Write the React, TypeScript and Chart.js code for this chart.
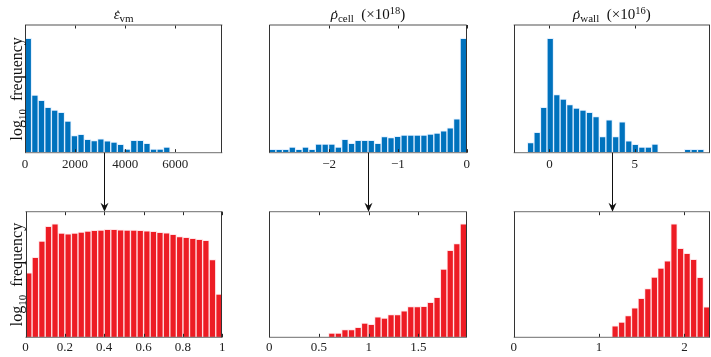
import React, { useEffect, useRef } from 'react';
import { Chart, registerables } from 'chart.js';
Chart.register(...registerables);

// ---------- data (log10 frequency per bin) ----------
// top row: raw rates
const vmBinRange = [0, 7900];
const vmAxisRange = [0, 7880];
const vmLog = [4.48, 2.26, 2.05, 1.78, 1.67, 1.58, 1.24, 0.67, 0.72, 0.52, 0.47, 0.54, 0.46, 0.42, 0.33, 0.14, 0.48, 0.48, 0.37, 0.14, 0.14, 0.22, 0, 0, 0, 0, 0, 0, 0, 0];
const vmTicks = [0, 2000, 4000, 6000];
const vmTickLabels = ['0', '2000', '4000', '6000'];

const cellBinRange = [-2.87, 0];
const cellAxisRange = [-2.87, 0];
const cellLog = [0.13, 0.13, 0.13, 0.22, 0.13, 0.22, 0.13, 0.34, 0.34, 0.34, 0.22, 0.52, 0.37, 0.48, 0.48, 0.48, 0.37, 0.63, 0.59, 0.64, 0.69, 0.69, 0.69, 0.69, 0.73, 0.77, 0.86, 0.97, 1.33, 4.48];
const cellTicks = [-2, -1, 0];
const cellTickLabels = ['\u22122', '\u22121', '0'];

const wallBinRange = [-1.29, 9.06];
const wallAxisRange = [-2.09, 9.41];
const wallLog = [0.40, 0.80, 1.78, 4.48, 2.28, 2.10, 1.88, 1.75, 1.67, 1.58, 1.41, 0.63, 1.29, 0.63, 1.21, 0.46, 0.33, 0.22, 0.22, 0.34, 0, 0, 0, 0, 0.13, 0.13, 0.13];
const wallTicks = [0, 5];
const wallTickLabels = ['0', '5'];

// bottom row: transformed / normalised
const vmNormBinRange = [0, 1];
const vmNormAxisRange = [0, 1];
const vmNormLog = [2.57, 3.18, 3.83, 4.42, 4.52, 4.15, 4.12, 4.15, 4.19, 4.23, 4.26, 4.27, 4.30, 4.30, 4.28, 4.27, 4.27, 4.26, 4.24, 4.22, 4.18, 4.16, 4.10, 4.01, 3.98, 3.94, 3.90, 3.86, 3.09, 1.72];
const vmNormTicks = [0, 0.2, 0.4, 0.6, 0.8, 1];
const vmNormTickLabels = ['0', '0.2', '0.4', '0.6', '0.8', '1'];

const cellNormBinRange = [0, 1.987];
const cellNormAxisRange = [0, 1.987];
const cellNormLog = [0, 0, 0, 0, 0, 0, 0, 0, 0, 0.17, 0.17, 0.31, 0.31, 0.40, 0.57, 0.52, 0.81, 0.77, 0.90, 0.90, 1.05, 1.22, 1.22, 1.23, 1.39, 1.59, 2.72, 3.46, 3.73, 4.52];
const cellNormTicks = [0, 0.5, 1, 1.5];
const cellNormTickLabels = ['0', '0.5', '1', '1.5'];

const wallNormBinRange = [0, 2.30];
const wallNormAxisRange = [0, 2.30];
const wallNormLog = [0, 0, 0, 0, 0, 0, 0, 0, 0, 0, 0, 0, 0, 0, 0, 0.46, 0.61, 0.86, 1.17, 1.55, 1.94, 2.40, 2.76, 3.04, 4.52, 3.54, 3.34, 3.10, 2.39, 1.21];
const wallNormTicks = [0, 1, 2];
const wallNormTickLabels = ['0', '1', '2'];

// arrow positions (data units of each panel)
const arrowTop = [3170, -1.43, 3.69];
const arrowBottom = [0.40, 0.995, 1.156];

const Y_MAX = 5;
const BLUE = '#0072BD';
const RED = '#ED1C24';
const SERIF = '"Liberation Serif", "Times New Roman", serif';

type Seg = { t: string; s: number; it?: boolean; dy?: number; dot?: boolean };

const titleVm: Seg[] = [{ t: '\u03B5', s: 15, it: true, dot: true }, { t: 'vm', s: 11, dy: 3 }];
const titleCell: Seg[] = [{ t: '\u03C1', s: 15, it: true, dot: true }, { t: 'cell', s: 11, dy: 3 }, { t: '  (\u00D710', s: 15 }, { t: '18', s: 10.5, dy: -5.5 }, { t: ')', s: 15 }];
const titleWall: Seg[] = [{ t: '\u03C1', s: 15, it: true, dot: true }, { t: 'wall', s: 11, dy: 3 }, { t: '  (\u00D710', s: 15 }, { t: '16', s: 10.5, dy: -5.5 }, { t: ')', s: 15 }];
const yLabel: Seg[] = [{ t: 'log', s: 16 }, { t: '10', s: 11, dy: 3.5 }, { t: '  frequency', s: 16 }];

function font(s: Seg) {
  return `${s.it ? 'italic ' : ''}${s.s}px ${SERIF}`;
}

function drawRich(ctx: CanvasRenderingContext2D, segs: Seg[], cx: number, y: number) {
  let total = 0;
  const widths = segs.map((s) => {
    ctx.font = font(s);
    const w = ctx.measureText(s.t).width;
    total += w;
    return w;
  });
  let x = cx - total / 2;
  ctx.textBaseline = 'alphabetic';
  ctx.textAlign = 'left';
  ctx.fillStyle = '#111';
  segs.forEach((s, i) => {
    ctx.font = font(s);
    ctx.fillText(s.t, x, y + (s.dy || 0));
    if (s.dot) {
      ctx.font = `${s.s}px ${SERIF}`;
      ctx.textAlign = 'center';
      ctx.fillText('\u02D9', x + widths[i] / 2 + 1.5, y + 1);
      ctx.textAlign = 'left';
    }
    x += widths[i];
  });
}

type Spec = {
  values: number[];
  binRange: number[];
  axisRange: number[];
  ticks: number[];
  tickLabels: string[];
  color: string;
  edge: string;
  title?: Seg[];
  ylabel?: boolean;
  arrow: number;
  arrowMode: 'out' | 'in';
  pad: { left: number; right: number; top: number; bottom: number };
  axisH: number;
  tickPad: number;
};

function Panel({ spec, left, top, width, height }: { spec: Spec; left: number; top: number; width: number; height: number }) {
  const ref = useRef<HTMLCanvasElement>(null);
  useEffect(() => {
    const n = spec.values.length;
    const w = (spec.binRange[1] - spec.binRange[0]) / n;
    const points = spec.values.map((v, i) => ({ x: spec.binRange[0] + (i + 0.5) * w, y: v }));

    const decor = {
      id: 'decor',
      afterDatasetsDraw(chart: any) {
        const ctx: CanvasRenderingContext2D = chart.ctx;
        const a = chart.chartArea;
        const xs = chart.scales.x;
        ctx.save();
        ctx.strokeStyle = '#262626';
        ctx.lineWidth = 1;
        ctx.beginPath();
        for (const v of spec.ticks) {
          const px = Math.round(xs.getPixelForValue(v)) + 0.5;
          ctx.moveTo(px, a.top);
          ctx.lineTo(px, a.top + 3.5);
          ctx.moveTo(px, a.bottom);
          ctx.lineTo(px, a.bottom - 3.5);
        }
        ctx.stroke();
        const l = Math.round(a.left) + 0.5;
        const r = Math.round(a.right) - 0.5;
        ctx.strokeStyle = '#8a8a8a';
        ctx.lineWidth = 1.3;
        ctx.beginPath();
        ctx.moveTo(a.left, a.top);
        ctx.lineTo(a.right, a.top);
        ctx.moveTo(a.left, a.bottom);
        ctx.lineTo(a.right, a.bottom);
        ctx.stroke();
        ctx.strokeStyle = '#333';
        ctx.lineWidth = 1;
        ctx.beginPath();
        ctx.moveTo(l, a.top);
        ctx.lineTo(l, a.bottom);
        ctx.moveTo(r, a.top);
        ctx.lineTo(r, a.bottom);
        ctx.stroke();
        ctx.restore();
      },
      afterDraw(chart: any) {
        const ctx: CanvasRenderingContext2D = chart.ctx;
        const a = chart.chartArea;
        const xs = chart.scales.x;
        ctx.save();
        if (spec.title) drawRich(ctx, spec.title, (a.left + a.right) / 2, 19);
        if (spec.ylabel) {
          ctx.save();
          ctx.translate(22, (a.top + a.bottom) / 2);
          ctx.rotate(-Math.PI / 2);
          drawRich(ctx, yLabel, 0, 0);
          ctx.restore();
        }
        const ax = Math.round(xs.getPixelForValue(spec.arrow)) + 0.5;
        ctx.strokeStyle = '#111';
        ctx.fillStyle = '#111';
        ctx.lineWidth = 1;
        ctx.beginPath();
        if (spec.arrowMode === 'out') {
          ctx.moveTo(ax, a.bottom);
          ctx.lineTo(ax, chart.height);
          ctx.stroke();
        } else {
          ctx.moveTo(ax, 0);
          ctx.lineTo(ax, a.top - 4);
          ctx.stroke();
          ctx.beginPath();
          ctx.moveTo(ax, a.top);
          ctx.lineTo(ax - 4, a.top - 9);
          ctx.lineTo(ax, a.top - 6);
          ctx.lineTo(ax + 4, a.top - 9);
          ctx.closePath();
          ctx.fill();
        }
        ctx.restore();
      },
    };

    const chart = new Chart(ref.current as HTMLCanvasElement, {
      type: 'bar',
      data: {
        datasets: [
          {
            data: points as any,
            backgroundColor: spec.color,
            borderColor: spec.edge,
            borderWidth: 1,
            barPercentage: 1,
            categoryPercentage: 1,
          },
        ],
      },
      options: {
        responsive: false,
        animation: false,
        devicePixelRatio: 1,
        layout: { padding: spec.pad },
        plugins: { legend: { display: false }, tooltip: { enabled: false }, title: { display: false } },
        scales: {
          x: {
            type: 'linear',
            min: spec.axisRange[0],
            max: spec.axisRange[1],
            offset: false,
            grid: { display: false, drawTicks: false },
            border: { display: false },
            ticks: {
              padding: spec.tickPad,
              color: '#222',
              font: { family: SERIF, size: 13 },
              maxRotation: 0,
              autoSkip: false,
              callback: (_v: any, i: number) => spec.tickLabels[i],
            },
            afterBuildTicks: (s: any) => {
              s.ticks = spec.ticks.map((v) => ({ value: v }));
            },
            afterFit: (s: any) => {
              s.height = spec.axisH;
              s.paddingLeft = 0;
              s.paddingRight = 0;
            },
          },
          y: { type: 'linear', min: 0, max: Y_MAX, display: false },
        },
      } as any,
      plugins: [decor],
    });
    return () => chart.destroy();
  }, []);
  return (
    <canvas
      ref={ref}
      width={width}
      height={height}
      style={{ position: 'absolute', left, top, width, height, display: 'block' }}
    />
  );
}

const BLUE_EDGE = 'rgba(200,225,255,0.55)';
const RED_EDGE = 'rgba(255,210,215,0.6)';

const colX = [0, 245, 490];
const colW = [245, 245, 221];
const rowY = [0, 180];
const rowH = [180, 177];
const padX = [
  { left: 25, right: 22.7 },
  { left: 24.3, right: 23.3 },
  { left: 23.7, right: 1 },
];

const topRow: Spec[] = [
  { values: vmLog, binRange: vmBinRange, axisRange: vmAxisRange, ticks: vmTicks, tickLabels: vmTickLabels, color: BLUE, edge: BLUE_EDGE, title: titleVm, ylabel: true, arrow: arrowTop[0], arrowMode: 'out', pad: { ...padX[0], top: 25, bottom: 7.3 }, axisH: 20, tickPad: 4 },
  { values: cellLog, binRange: cellBinRange, axisRange: cellAxisRange, ticks: cellTicks, tickLabels: cellTickLabels, color: BLUE, edge: BLUE_EDGE, title: titleCell, arrow: arrowTop[1], arrowMode: 'out', pad: { ...padX[1], top: 25, bottom: 7.3 }, axisH: 20, tickPad: 4 },
  { values: wallLog, binRange: wallBinRange, axisRange: wallAxisRange, ticks: wallTicks, tickLabels: wallTickLabels, color: BLUE, edge: BLUE_EDGE, title: titleWall, arrow: arrowTop[2], arrowMode: 'out', pad: { ...padX[2], top: 25, bottom: 7.3 }, axisH: 20, tickPad: 4 },
];
const bottomRow: Spec[] = [
  { values: vmNormLog, binRange: vmNormBinRange, axisRange: vmNormAxisRange, ticks: vmNormTicks, tickLabels: vmNormTickLabels, color: RED, edge: RED_EDGE, ylabel: true, arrow: arrowBottom[0], arrowMode: 'in', pad: { left: 25.5, right: 22.7, top: 31.7, bottom: 4.7 }, axisH: 15, tickPad: 2 },
  { values: cellNormLog, binRange: cellNormBinRange, axisRange: cellNormAxisRange, ticks: cellNormTicks, tickLabels: cellNormTickLabels, color: RED, edge: RED_EDGE, arrow: arrowBottom[1], arrowMode: 'in', pad: { ...padX[1], top: 31.7, bottom: 4.7 }, axisH: 15, tickPad: 2 },
  { values: wallNormLog, binRange: wallNormBinRange, axisRange: wallNormAxisRange, ticks: wallNormTicks, tickLabels: wallNormTickLabels, color: RED, edge: RED_EDGE, arrow: arrowBottom[2], arrowMode: 'in', pad: { ...padX[2], top: 31.7, bottom: 4.7 }, axisH: 15, tickPad: 2 },
];

export default function App() {
  useEffect(() => {
    document.body.style.margin = '0';
    document.body.style.background = '#fff';
  }, []);
  return (
    <div style={{ position: 'fixed', left: 0, top: 0, width: 711, height: 357, background: '#fff', overflow: 'hidden' }}>
      {topRow.map((s, i) => (
        <Panel key={'t' + i} spec={s} left={colX[i]} top={rowY[0]} width={colW[i]} height={rowH[0]} />
      ))}
      {bottomRow.map((s, i) => (
        <Panel key={'b' + i} spec={s} left={colX[i]} top={rowY[1]} width={colW[i]} height={rowH[1]} />
      ))}
    </div>
  );
}
